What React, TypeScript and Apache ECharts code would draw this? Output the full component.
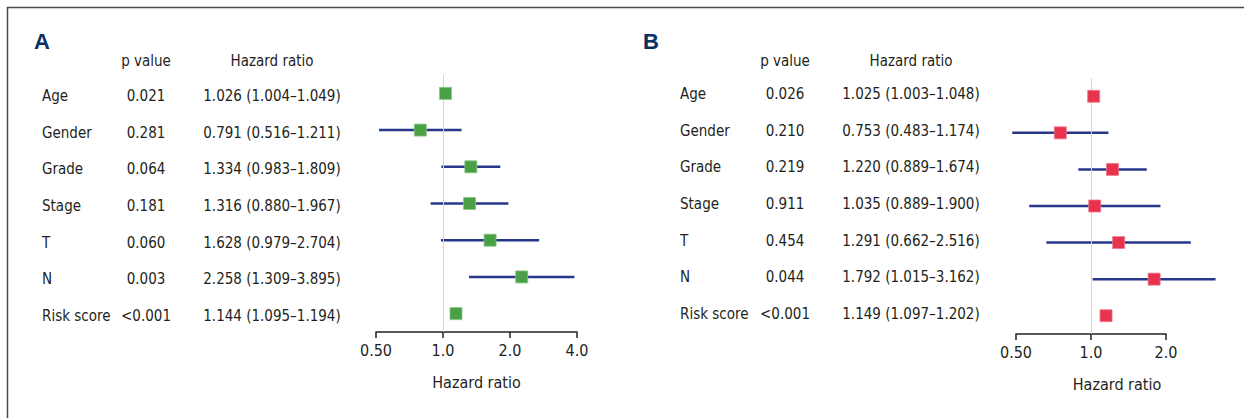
import React, { useEffect, useRef } from "react";
import * as echarts from "echarts";

const rowLabels = ["Age", "Gender", "Grade", "Stage", "T", "N", "Risk score"];

// Panel A
const pValuesA = ["0.021", "0.281", "0.064", "0.181", "0.060", "0.003", "<0.001"];
const hrTextA = [
  "1.026 (1.004–1.049)",
  "0.791 (0.516–1.211)",
  "1.334 (0.983–1.809)",
  "1.316 (0.880–1.967)",
  "1.628 (0.979–2.704)",
  "2.258 (1.309–3.895)",
  "1.144 (1.095–1.194)",
];
const hrA = [1.026, 0.791, 1.334, 1.316, 1.628, 2.258, 1.144];
const lowA = [1.004, 0.516, 0.983, 0.88, 0.979, 1.309, 1.095];
const highA = [1.049, 1.211, 1.809, 1.967, 2.704, 3.895, 1.194];

// Panel B
const pValuesB = ["0.026", "0.210", "0.219", "0.911", "0.454", "0.044", "<0.001"];
const hrTextB = [
  "1.025 (1.003–1.048)",
  "0.753 (0.483–1.174)",
  "1.220 (0.889–1.674)",
  "1.035 (0.889–1.900)",
  "1.291 (0.662–2.516)",
  "1.792 (1.015–3.162)",
  "1.149 (1.097–1.202)",
];
const hrB = [1.025, 0.753, 1.22, 1.035, 1.291, 1.792, 1.149];
// plotted interval bounds as drawn in the picture
const lowB = [1.003, 0.483, 0.889, 0.565, 0.662, 1.015, 1.097];
const highB = [1.048, 1.174, 1.674, 1.9, 2.516, 3.162, 1.202];

const ticksA = [0.5, 1, 2, 4];
const ticksB = [0.5, 1, 2];

const FONT = "'DejaVu Sans Condensed', 'Liberation Sans Narrow', sans-serif";
const FS = 15;
const TXT = "#231f20";
const NAVY = "#27378a";

function fmtTick(v: number) {
  return v === 0.5 ? "0.50" : v.toFixed(1);
}

export default function App() {
  const ref = useRef<HTMLDivElement>(null);
  useEffect(() => {
    if (!ref.current) return;
    const chart = echarts.init(ref.current, null, { renderer: "svg" });

    const panels = [
      {
        left: 376, width: 201, top: 75, height: 257, min: 0.5, max: 4,
        ticks: ticksA, hr: hrA, low: lowA, high: highA, p: pValuesA, txt: hrTextA,
        color: "#4b9f47", border: "#86c584", labelX: 42, pX: 146, hrX: 272,
        titleShift: 0, vAlign: "top", lh: 5,
      },
      {
        left: 1016, width: 150, top: 78, height: 256, min: 0.5, max: 2,
        ticks: ticksB, hr: hrB, low: lowB, high: highB, p: pValuesB, txt: hrTextB,
        color: "#e8334f", border: "#f07a8c", labelX: 680, pX: 785, hrX: 911,
        titleShift: 52, vAlign: "bottom", lh: 4,
      },
    ];

    const grid: any[] = [];
    const xAxis: any[] = [];
    const yAxis: any[] = [];
    const series: any[] = [];

    panels.forEach((p, gi) => {
      grid.push({ left: p.left, top: p.top, width: p.width, height: p.height, containLabel: false });
      xAxis.push({
        type: "log",
        logBase: 2,
        gridIndex: gi,
        position: "bottom",
        min: p.min,
        max: p.max,
        interval: 1,
        name: "Hazard ratio",
        nameLocation: "middle",
        nameGap: 42,
        nameTextStyle: {
          fontFamily: FONT, fontSize: FS + 1, color: TXT,
          padding: [0, 0, 0, p.titleShift],
        },
        axisLine: { show: true, lineStyle: { color: "#222", width: 1.5 } },
        axisTick: { show: true, length: 6, lineStyle: { color: "#222", width: 1.5 } },
        axisLabel: {
          fontFamily: FONT, fontSize: FS + 1, color: TXT, margin: 10,
          formatter: (v: number) => fmtTick(v),
          showMinLabel: true, showMaxLabel: true,
        },
        splitLine: { show: false },
      });
      const cols = [
        { data: rowLabels, x: p.labelX, align: "left" },
        { data: p.p, x: p.pX, align: "center" },
        { data: p.txt, x: p.hrX, align: "center" },
      ];
      cols.forEach((c) => {
        yAxis.push({
          type: "category",
          gridIndex: gi,
          position: "left",
          offset: 0,
          inverse: true,
          data: c.data,
          axisLine: { show: false },
          axisTick: { show: false },
          splitLine: { show: false },
          axisLabel: {
            fontFamily: FONT, fontSize: FS, color: TXT,
            margin: p.left - c.x,
            align: c.align,
            verticalAlign: p.vAlign,
            lineHeight: p.lh,
          },
        });
      });
      const yIdx = gi * 3;
      // reference line at HR = 1
      series.push({
        type: "line",
        xAxisIndex: gi,
        yAxisIndex: yIdx,
        data: [],
        markLine: {
          silent: true,
          symbol: "none",
          label: { show: false },
          lineStyle: { color: "#d6d6d6", width: 1, type: "solid" },
          data: [{ xAxis: 1 }],
        },
      });
      // confidence intervals
      series.push({
        type: "custom",
        xAxisIndex: gi,
        yAxisIndex: yIdx,
        clip: false,
        data: rowLabels.map((_, i) => [p.low[i], p.high[i], i]),
        renderItem: (params: any, api: any) => {
          const a = api.coord([api.value(0), api.value(2)]);
          const b = api.coord([api.value(1), api.value(2)]);
          return {
            type: "line",
            shape: { x1: a[0], y1: a[1], x2: b[0], y2: b[1] },
            style: { stroke: NAVY, lineWidth: 2.5 },
          };
        },
      });
      // point estimates
      series.push({
        type: "scatter",
        xAxisIndex: gi,
        yAxisIndex: yIdx,
        symbol: "rect",
        symbolSize: 12,
        clip: false,
        itemStyle: { color: p.color, borderColor: p.border, borderWidth: 0.8, opacity: 1 },
        data: rowLabels.map((_, i) => [p.hr[i], i]),
        z: 5,
      });
    });

    const hdr = (text: string, x: number) => ({
      type: "text", x, y: 61,
      style: { text, font: `${FS}px ${FONT}`, fill: TXT, align: "center", verticalAlign: "middle" },
    });

    chart.setOption({
      animation: false,
      backgroundColor: "#ffffff",
      grid,
      xAxis,
      yAxis,
      series,
      graphic: [
        { type: "line", shape: { x1: 7, y1: 7.5, x2: 1244, y2: 7.5 }, style: { stroke: "#4a4a4a", lineWidth: 1.5 } },
        { type: "line", shape: { x1: 7.5, y1: 7, x2: 7.5, y2: 418 }, style: { stroke: "#4a4a4a", lineWidth: 1.5 } },
        { type: "text", x: 42, y: 41, style: { text: "A", font: "bold 22px 'Liberation Sans', sans-serif", fill: "#0b2e63", align: "center", verticalAlign: "middle" } },
        { type: "text", x: 651, y: 41, style: { text: "B", font: "bold 22px 'Liberation Sans', sans-serif", fill: "#0b2e63", align: "center", verticalAlign: "middle" } },
        hdr("p value", 146),
        hdr("Hazard ratio", 272),
        hdr("p value", 785),
        hdr("Hazard ratio", 911),
      ],
    });
    return () => chart.dispose();
  }, []);
  return (
    <div
      ref={ref}
      style={{ position: "fixed", left: 0, top: 0, width: 1244, height: 418, background: "#fff" }}
    />
  );
}
